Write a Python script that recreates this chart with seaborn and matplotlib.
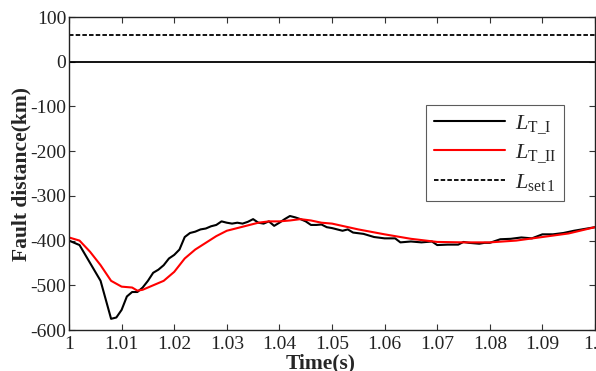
import numpy as np
import pandas as pd
import matplotlib
matplotlib.use("Agg")
import matplotlib.pyplot as plt
import seaborn as sns

# values
t_black = [1.000, 1.002, 1.004, 1.006, 1.008, 1.009, 1.010, 1.011, 1.012, 1.013,
           1.014, 1.015, 1.016, 1.017, 1.018, 1.019, 1.020, 1.021, 1.022, 1.023,
           1.024, 1.025, 1.026, 1.027, 1.028, 1.029, 1.030, 1.031, 1.032, 1.033,
           1.034, 1.035, 1.036, 1.037, 1.038, 1.039, 1.040, 1.041, 1.042, 1.043,
           1.044, 1.045, 1.046, 1.047, 1.048, 1.049, 1.050, 1.052, 1.053, 1.054,
           1.056, 1.058, 1.060, 1.062, 1.063, 1.065, 1.067, 1.069, 1.070, 1.072,
           1.074, 1.075, 1.076, 1.078, 1.079, 1.080, 1.082, 1.084, 1.086, 1.088,
           1.090, 1.092, 1.094, 1.096, 1.098, 1.100]
L_T_I = [-400, -410, -450, -490, -575, -572, -555, -525, -515, -515,
         -505, -490, -472, -465, -455, -440, -432, -420, -392, -383,
         -380, -375, -373, -368, -365, -357, -360, -362, -360, -362,
         -358, -352, -360, -362, -357, -367, -360, -352, -345, -348,
         -352, -357, -365, -365, -364, -370, -372, -378, -375, -382,
         -385, -392, -395, -395, -404, -402, -404, -402, -410, -409,
         -409, -403, -405, -407, -405, -405, -397, -396, -393, -395,
         -386, -386, -383, -378, -374, -370]

t_red = [1.000, 1.002, 1.004, 1.006, 1.008, 1.010, 1.012, 1.013, 1.014, 1.016,
         1.018, 1.020, 1.022, 1.024, 1.026, 1.028, 1.030, 1.032, 1.034, 1.036,
         1.038, 1.040, 1.042, 1.044, 1.046, 1.048, 1.050, 1.055, 1.060, 1.065,
         1.070, 1.075, 1.080, 1.085, 1.090, 1.095, 1.100]
L_T_II = [-393, -400, -425, -455, -490, -503, -505, -512, -510, -500,
          -490, -470, -440, -420, -405, -390, -378, -372, -366, -360,
          -357, -357, -355, -352, -355, -360, -362, -375, -386, -396,
          -403, -404, -404, -400, -392, -384, -370]

L_set1 = 60
x_ticks = [1, 1.01, 1.02, 1.03, 1.04, 1.05, 1.06, 1.07, 1.08, 1.09, 1.1]
x_ticklabels = ["1", "1.01", "1.02", "1.03", "1.04", "1.05", "1.06", "1.07", "1.08", "1.09", "1.1"]
y_ticks = [100, 0, -100, -200, -300, -400, -500, -600]

sns.set_style("ticks")
plt.rcParams["font.family"] = ["Liberation Serif", "DejaVu Serif"]
plt.rcParams["mathtext.fontset"] = "custom"
plt.rcParams["mathtext.rm"] = "Liberation Serif"
plt.rcParams["mathtext.it"] = "Liberation Serif:italic"
plt.rcParams["axes.unicode_minus"] = False

fig = plt.figure(figsize=(5.96, 3.71), dpi=100)
ax = fig.add_axes([0.1158, 0.1105, 0.8825, 0.8435])

df1 = pd.DataFrame({"t": t_black, "L": L_T_I})
df2 = pd.DataFrame({"t": t_red, "L": L_T_II})
sns.lineplot(data=df1, x="t", y="L", ax=ax, color="black", lw=1.5,
             label=r"$L_{\rm T\_I}$")
sns.lineplot(data=df2, x="t", y="L", ax=ax, color="red", lw=1.5,
             label=r"$L_{\rm T\_II}$")
ax.axhline(L_set1, color="black", lw=1.3, ls=(0, (2.5, 1.2)), label=r"$L_{\rm set\,1}$")
ax.axhline(0, color="black", lw=1.3)

ax.set_xlim(1, 1.1)
ax.set_ylim(-600, 100)
ax.set_xticks(x_ticks)
ax.set_xticklabels(x_ticklabels)
ax.set_yticks(y_ticks)
ax.tick_params(direction="in", top=True, right=True, labelsize=14, length=4,
               color="#333333", labelcolor="#222222")
ax.tick_params(axis="y", pad=2)
ax.tick_params(axis="x", pad=4)
for s in ax.spines.values():
    s.set_linewidth(1.0)
    s.set_color("#222222")

ax.set_xlabel("Time(s)", fontsize=15.5, fontweight="bold", labelpad=-6)
ax.xaxis.set_label_coords(0.478, -0.075, transform=ax.transAxes)
ax.xaxis.label.set_va("top")
ax.set_ylabel("Fault distance(km)", fontsize=15.5, fontweight="bold", labelpad=-1)

leg = ax.legend(loc="upper left", bbox_to_anchor=(0.679, 0.718), fontsize=16,
                frameon=True, fancybox=False, edgecolor="#333333",
                handlelength=3.2, borderpad=0.35, labelspacing=0.3,
                handletextpad=0.45, borderaxespad=0)
leg.get_frame().set_linewidth(0.8)

fig.savefig("out.png", dpi=100)
